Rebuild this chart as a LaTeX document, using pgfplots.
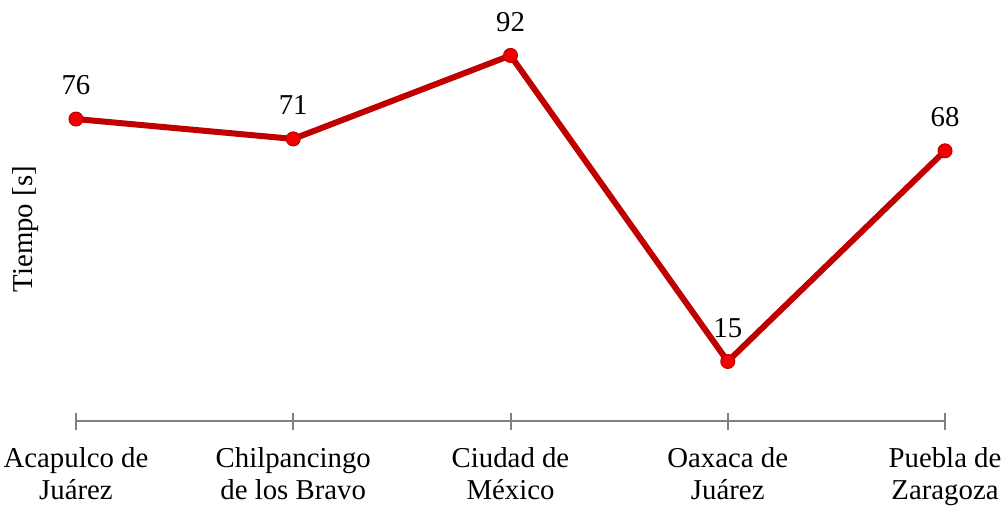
\documentclass[border=0pt]{standalone}
\usepackage{pgfplots}
\pgfplotsset{compat=1.18}
\usepackage{fontspec}
\setmainfont{Liberation Serif}
\definecolor{lineRed}{HTML}{C00000}
\definecolor{markRed}{HTML}{F00000}
\definecolor{axGray}{HTML}{808080}
\begin{document}
\fontsize{14.4}{16}\selectfont
\begin{tikzpicture}
\begin{axis}[
  scale only axis,
  width=434.5pt, height=198.7pt,
  xmin=0, xmax=4, ymin=0, ymax=100,
  clip=false,
  axis y line=none,
  axis x line=bottom,
  x axis line style={axGray, line width=1pt, -},
  xtick={0,1,2,3,4},
  xticklabels={{Acapulco de\\Juárez},{Chilpancingo\\de los Bravo},{Ciudad de\\México},{Oaxaca de\\Juárez},{Puebla de\\Zaragoza}},
  xticklabel style={align=center, font=\fontsize{14.4}{16}\selectfont, inner xsep=1.8pt, inner ysep=0pt, yshift=-9pt},
  tick align=center,
  major tick length=8.5pt,
  tick style={axGray, line width=1pt},
  /pgf/number format/assume math mode=true,
  nodes near coords,
  every node near coord/.append style={font=\fontsize{14.4}{16}\selectfont, anchor=south, inner ysep=6pt, yshift=5.8pt, black},
]
\addplot[lineRed, line width=3pt, mark=*, mark size=3.5pt,
  mark options={fill=markRed, draw=lineRed, line width=0.5pt}]
  coordinates {(0,76) (1,71) (2,92) (3,15) (4,68)};
\node[rotate=90, font=\fontsize{14.4}{16}\selectfont] at ([xshift=-25pt]axis cs:0,48.3) {Tiempo [s]};
\end{axis}
\end{tikzpicture}
\end{document}
